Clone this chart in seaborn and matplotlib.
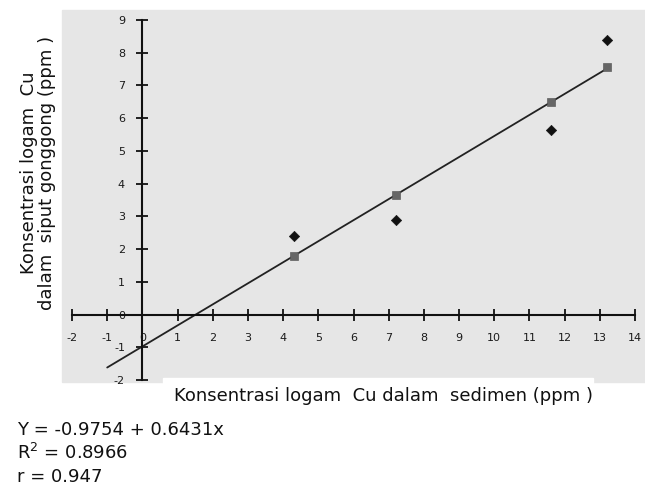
import matplotlib
matplotlib.use("Agg")
import matplotlib.pyplot as plt
import seaborn as sns
import pandas as pd
from matplotlib.patches import Rectangle

# data
sediment = [4.3, 7.2, 11.6, 13.2]          # Cu in sediment (ppm)
snail_obs = [2.4, 2.9, 5.65, 8.4]          # observed Cu in snail (ppm)
snail_pred = [1.8, 3.65, 6.5, 7.55]        # predicted values (on the line)
intercept = -0.9754
slope = 0.6431
line_x = [-1.0, 13.2]
x_ticks = list(range(-2, 15))
y_ticks = list(range(-2, 10))

df = pd.DataFrame({"x": sediment, "obs": snail_obs, "pred": snail_pred})
line_df = pd.DataFrame({"x": line_x, "y": [intercept + slope * v for v in line_x]})

sns.set_style("white")
plt.rcParams["font.family"] = ["DejaVu Sans"]
plt.rcParams["axes.unicode_minus"] = False

fig = plt.figure(figsize=(6.45, 4.9), dpi=100)
W, H = 645, 490

# grey chart area and the white box under the x label
fig.patches.append(Rectangle((62 / W, 1 - 382 / H), (W - 62) / W, 372 / H,
                             transform=fig.transFigure, color="#e6e6e6", zorder=-10))
fig.patches.append(Rectangle((163 / W, 1 - 405 / H), 430 / W, 27 / H,
                             transform=fig.transFigure, color="white", zorder=-9))

ax = fig.add_axes([72 / W, 1 - 380 / H, 563 / W, 360 / H])
ax.set_facecolor("none")

sns.lineplot(data=line_df, x="x", y="y", ax=ax, color="#222222", lw=1.3)
sns.scatterplot(data=df, x="x", y="pred", ax=ax, marker="s", s=30,
                color="#666666", edgecolor="#555555", zorder=3)
sns.scatterplot(data=df, x="x", y="obs", ax=ax, marker="D", s=28,
                color="#111111", edgecolor="#111111", zorder=3)

ax.set_xlim(-2, 14)
ax.set_ylim(-2, 9)
ax.set_xlabel("")
ax.set_ylabel("")

for s in ["top", "right"]:
    ax.spines[s].set_visible(False)
ax.spines["left"].set_position(("data", 0))
ax.spines["bottom"].set_position(("data", 0))
for s in ["left", "bottom"]:
    ax.spines[s].set_linewidth(1.5)
    ax.spines[s].set_color("#111111")

ax.set_xticks(x_ticks)
ax.set_yticks(y_ticks)
ax.tick_params(axis="x", bottom=True, direction="inout", length=9, width=1.3,
               color="#111111", labelsize=8, labelcolor="#1a1a1a", pad=9)
ax.tick_params(axis="y", left=True, direction="inout", length=9, width=1.3,
               color="#111111", labelsize=8, labelcolor="#1a1a1a", pad=8)

fig.text(383 / W, 1 - 396 / H, "Konsentrasi logam  Cu dalam  sedimen (ppm )",
         ha="center", va="center", fontsize=13, color="#111111")
fig.text(38 / W, 1 - 173 / H, "Konsentrasi logam  Cu\ndalam  siput gonggong (ppm )",
         ha="center", va="center", rotation=90, fontsize=13, color="#111111",
         linespacing=1.0)

fig.text(17 / W, 1 - 430 / H, "Y = -0.9754 + 0.6431x", ha="left", va="center",
         fontsize=13, color="#111111")
fig.text(17 / W, 1 - 453 / H, "R$^2$ = 0.8966", ha="left", va="center",
         fontsize=13, color="#111111")
fig.text(17 / W, 1 - 477 / H, "r = 0.947", ha="left", va="center",
         fontsize=13, color="#111111")

fig.savefig("out.png", dpi=100)
